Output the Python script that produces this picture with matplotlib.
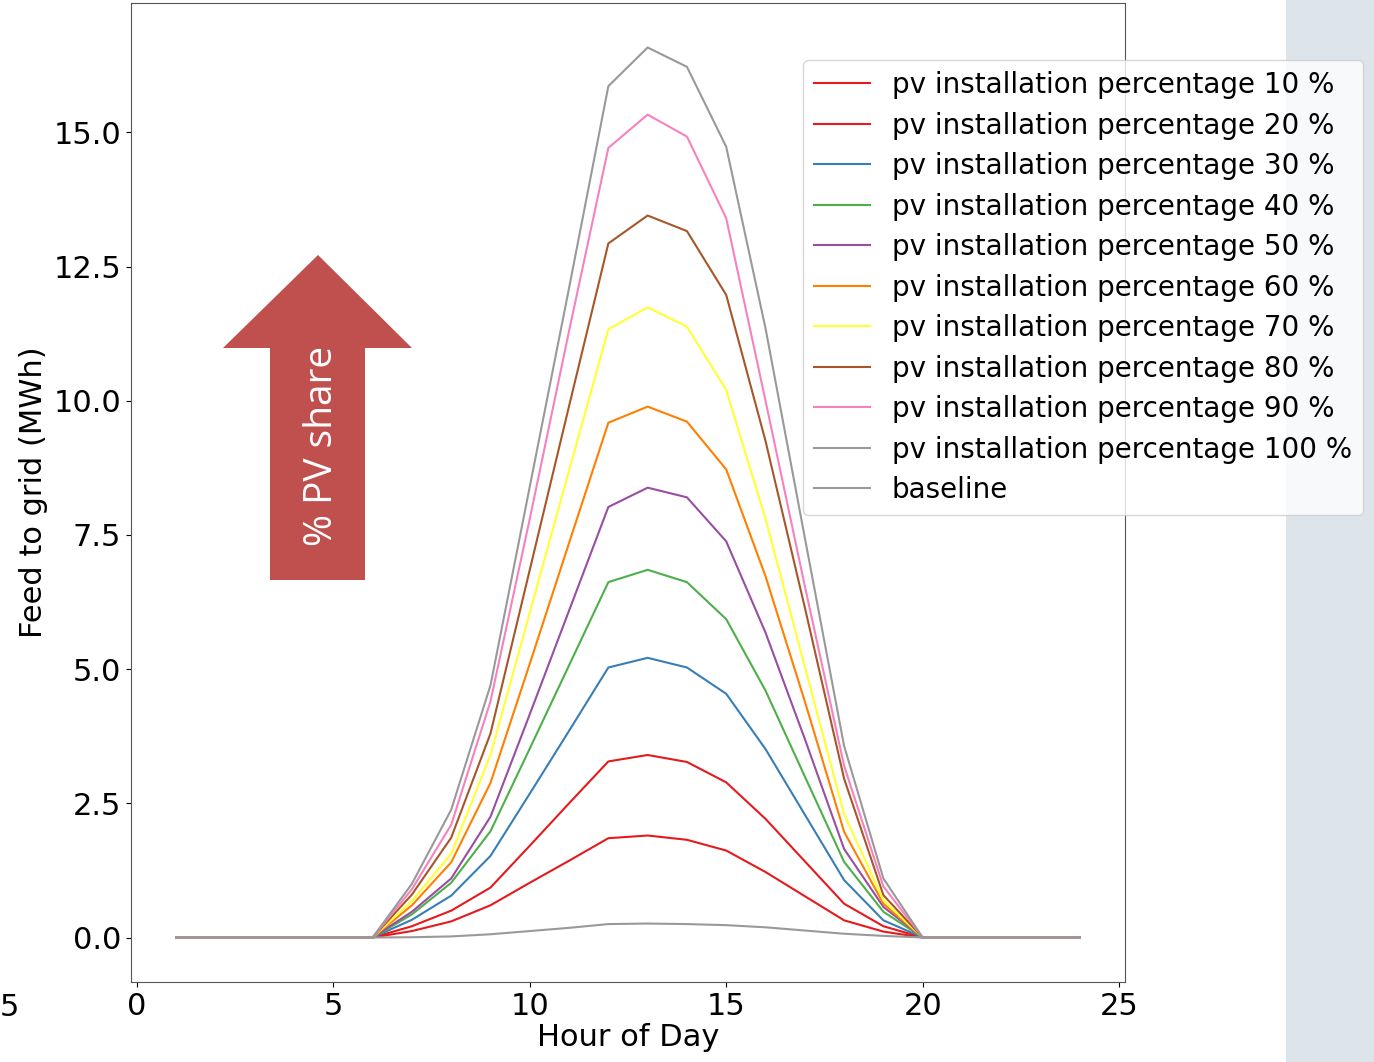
import matplotlib.pyplot as plt
import matplotlib.patches as mpatches
import numpy as np

hours = list(range(1, 25))

# feed-in per hour (MWh), hours 1..24
pv_10 = [0, 0, 0, 0, 0, 0, 0.12, 0.30, 0.60, 1.02, 1.43, 1.85, 1.90, 1.82, 1.62, 1.22, 0.77, 0.32, 0.11, 0, 0, 0, 0, 0]
pv_20 = [0, 0, 0, 0, 0, 0, 0.21, 0.50, 0.93, 1.71, 2.50, 3.28, 3.40, 3.27, 2.89, 2.21, 1.42, 0.63, 0.21, 0, 0, 0, 0, 0]
pv_30 = [0, 0, 0, 0, 0, 0, 0.33, 0.78, 1.52, 2.68, 3.85, 5.03, 5.21, 5.03, 4.54, 3.51, 2.29, 1.07, 0.32, 0, 0, 0, 0, 0]
pv_40 = [0, 0, 0, 0, 0, 0, 0.43, 1.02, 1.98, 3.52, 5.07, 6.62, 6.85, 6.62, 5.93, 4.60, 3.00, 1.41, 0.48, 0, 0, 0, 0, 0]
pv_50 = [0, 0, 0, 0, 0, 0, 0.48, 1.10, 2.25, 4.16, 6.09, 8.02, 8.38, 8.20, 7.38, 5.68, 3.70, 1.65, 0.57, 0, 0, 0, 0, 0]
pv_60 = [0, 0, 0, 0, 0, 0, 0.60, 1.40, 2.88, 5.10, 7.35, 9.59, 9.89, 9.61, 8.72, 6.73, 4.40, 1.97, 0.63, 0, 0, 0, 0, 0]
pv_70 = [0, 0, 0, 0, 0, 0, 0.68, 1.56, 3.40, 6.05, 8.70, 11.33, 11.74, 11.38, 10.20, 7.80, 5.05, 2.30, 0.69, 0, 0, 0, 0, 0]
pv_80 = [0, 0, 0, 0, 0, 0, 0.80, 1.86, 3.80, 6.85, 9.90, 12.93, 13.45, 13.16, 11.97, 9.25, 6.15, 2.96, 0.79, 0, 0, 0, 0, 0]
pv_90 = [0, 0, 0, 0, 0, 0, 0.90, 2.10, 4.40, 7.80, 11.30, 14.71, 15.33, 14.92, 13.40, 10.00, 6.55, 3.20, 0.95, 0, 0, 0, 0, 0]
pv_100 = [0, 0, 0, 0, 0, 0, 1.00, 2.38, 4.70, 8.40, 12.10, 15.86, 16.58, 16.22, 14.73, 11.35, 7.45, 3.57, 1.10, 0, 0, 0, 0, 0]
baseline = [0, 0, 0, 0, 0, 0, 0.005, 0.02, 0.06, 0.12, 0.18, 0.25, 0.26, 0.25, 0.23, 0.19, 0.13, 0.07, 0.03, 0, 0, 0, 0, 0]

percentages = [10, 20, 30, 40, 50, 60, 70, 80, 90, 100]
series = [pv_10, pv_20, pv_30, pv_40, pv_50, pv_60, pv_70, pv_80, pv_90, pv_100, baseline]
labels = [f'pv installation percentage {p} %' for p in percentages] + ['baseline']

colors = plt.cm.Set1(np.linspace(0, 1, len(series)))

W, H = 1374, 1062
fig = plt.figure(figsize=(W / 100, H / 100), dpi=100)
fig.patch.set_facecolor('white')

# slide background panel on the right, kept behind the axes and legend
fig.patches.append(mpatches.Rectangle((1286 / W, 0), 1, 1.05, transform=fig.transFigure,
                                      facecolor='#dde5ea', edgecolor='none', zorder=-1))

ax = fig.add_axes([131 / W, 1 - 982 / H, 994 / W, 979 / H])

for values, label, color in zip(series, labels, colors):
    ax.plot(hours, values, color=color, linewidth=1.5, label=label)

ax.set_xlabel('Hour of Day', fontsize=22, labelpad=2)
ax.set_ylabel('Feed to grid (MWh)', fontsize=22)
ax.tick_params(labelsize=22)
ax.set_xticks([0, 5, 10, 15, 20, 25])
ax.set_yticks([0, 2.5, 5, 7.5, 10, 12.5, 15])
ax.yaxis.set_major_formatter(plt.FormatStrFormatter('%.1f'))
for spine in ax.spines.values():
    spine.set_edgecolor('#555555')

ax.legend(loc='upper left', bbox_to_anchor=(803 / W, 1 - 60 / H), bbox_transform=fig.transFigure,
          borderaxespad=0, fontsize=20, framealpha=0.8, labelspacing=0.45)

# "% PV share" arrow
arrow_px = [(318, 255), (412, 348), (365, 348), (365, 580), (270, 580), (270, 348), (223, 348)]
arrow = mpatches.Polygon([(x / W, 1 - y / H) for x, y in arrow_px], closed=True,
                         transform=fig.transFigure, facecolor='#c0504d', edgecolor='none', zorder=5)
fig.patches.append(arrow)
fig.text(322 / W, 1 - 446 / H, '% PV share', rotation=90, color='white', fontsize=28,
         family='Open Sans', ha='center', va='center', zorder=6)

# tick label of the neighbouring panel at the left edge
fig.text(0, 1 - 1008 / H, '5', fontsize=22, ha='left', va='center')

plt.savefig('out.png', dpi=100)
